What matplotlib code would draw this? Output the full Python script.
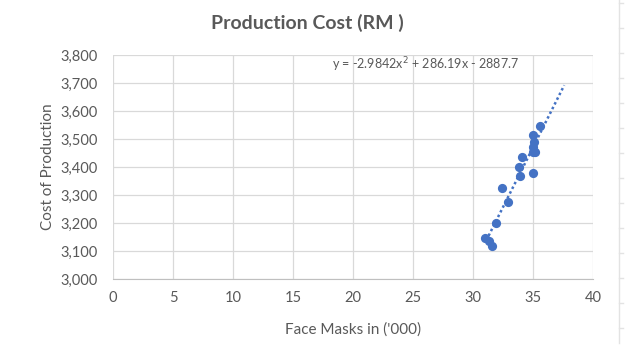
import matplotlib
matplotlib.use('Agg')
import matplotlib.pyplot as plt
from matplotlib.lines import Line2D
import numpy as np

plt.rcParams['font.family'] = ['Lato', 'DejaVu Sans']

# Face masks ('000) and cost of production (RM)
masks = [31.0, 31.3, 31.6, 31.9, 32.4, 32.9, 33.8, 33.9, 34.1,
         35.0, 35.0, 35.1, 35.0, 35.2, 35.0, 35.6]
cost = [3145, 3136, 3119, 3199, 3326, 3276, 3401, 3368, 3435,
        3377, 3515, 3490, 3470, 3455, 3452, 3547]

x_ticks = [0, 5, 10, 15, 20, 25, 30, 35, 40]
y_ticks = [3000, 3100, 3200, 3300, 3400, 3500, 3600, 3700, 3800]
equation = 'y = -2.9842x$^2$ + 286.19x - 2887.7'

blue = '#4472C4'
grey = '#595959'
grid = '#D9D9D9'

fig = plt.figure(figsize=(6.41, 3.62), dpi=100)
ax = fig.add_axes([113 / 641, 1 - 279 / 362, 480 / 641, 224 / 362])

ax.scatter(masks, cost, s=44, color=blue, zorder=3, linewidths=0)

# trendline, forecast 2 units forward
coef = np.polyfit(masks, cost, 1)
xt = np.linspace(min(masks) + 0.3, max(masks) + 2, 100)
ax.plot(xt, np.polyval(coef, xt), color=blue, lw=1.8, ls=(0, (1, 1.1)), zorder=2)

ax.text(18.25, 3765, equation, ha='left', va='center', fontsize=9, color=grey)

ax.set_xlim(0, 40)
ax.set_ylim(3000, 3800)
ax.set_xticks(x_ticks)
ax.set_yticks(y_ticks)
ax.set_yticklabels(['{:,}'.format(v) for v in y_ticks])
ax.tick_params(length=0, labelsize=10.5, colors=grey)
ax.tick_params(axis='x', pad=9)
ax.tick_params(axis='y', pad=11)
ax.grid(True, color=grid, lw=0.9)
ax.set_axisbelow(True)
for side in ['top', 'right', 'left']:
    ax.spines[side].set_visible(False)
ax.spines['bottom'].set_color('#BFBFBF')

ax.set_xlabel("Face Masks in ('000)", fontsize=11, color=grey, labelpad=12)
ax.set_ylabel('Cost of Production', fontsize=11, color=grey, labelpad=4)
fig.text(307 / 641, 1 - 23 / 362, 'Production Cost (RM )', ha='center', va='center',
         fontsize=14, fontweight='bold', color=grey)

# spreadsheet row edge on the right
fig.lines.append(Line2D([619 / 641, 619 / 641], [1 - 343 / 362, 1], color='#E3E3E3',
                        lw=1, transform=fig.transFigure))
for r in range(14):
    yy = 1 - (3.3 + 25 * r) / 362
    fig.lines.append(Line2D([619 / 641, 623 / 641], [yy, yy], color='#E3E3E3',
                            lw=1, transform=fig.transFigure))

fig.savefig('out.png', dpi=100)
